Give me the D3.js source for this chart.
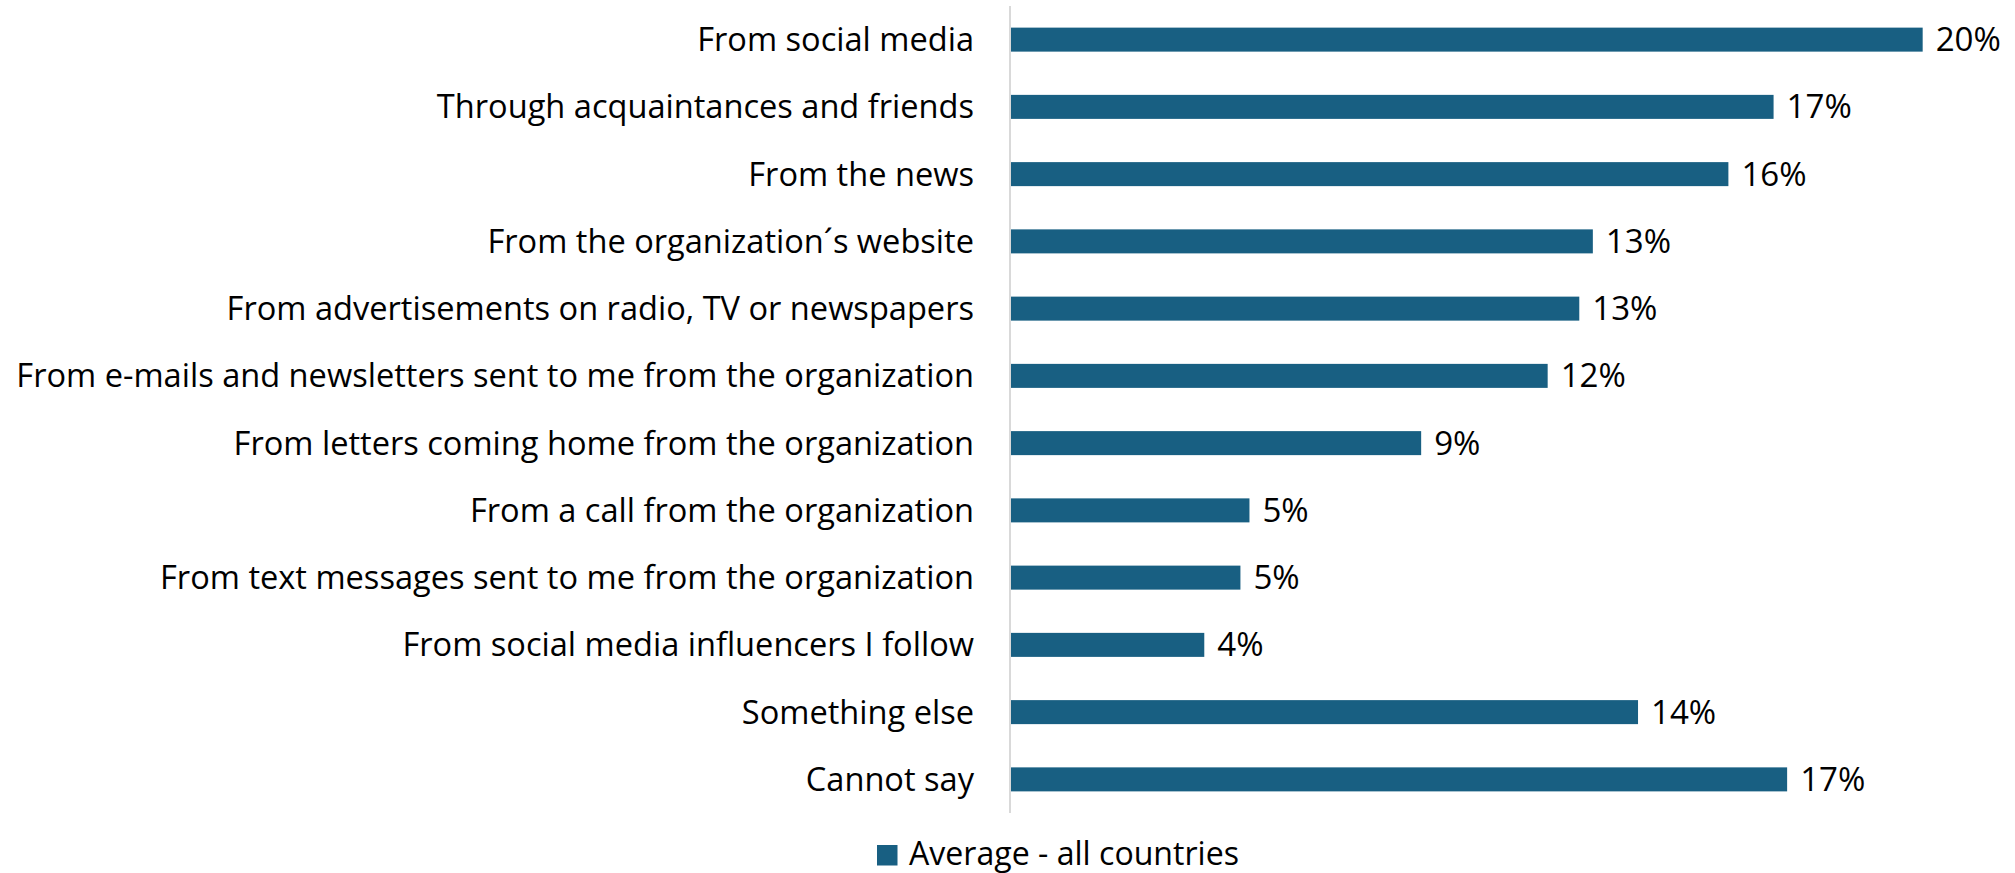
<!DOCTYPE html>
<html>
<head>
<meta charset="utf-8">
<script src="https://cdn.jsdelivr.net/npm/d3@7"></script>
<style>
  html, body { margin: 0; padding: 0; background: #fff; }
  svg { display: block; }
  text { font-family: "Open Sans", "Noto Sans", sans-serif; fill: #000; }
</style>
</head>
<body>
<svg id="chart" width="2015" height="873"></svg>
<script>
// Where respondents heard about the organization (share of answers)
const categories = [
  "From social media",
  "Through acquaintances and friends",
  "From the news",
  "From the organization´s website",
  "From advertisements on radio, TV or newspapers",
  "From e-mails and newsletters sent to me from the organization",
  "From letters coming home from the organization",
  "From a call from the organization",
  "From text messages sent to me from the organization",
  "From social media influencers I follow",
  "Something else",
  "Cannot say"
];
const averageAllCountries = [0.202, 0.169, 0.159, 0.129, 0.126, 0.119, 0.091, 0.053, 0.051, 0.043, 0.139, 0.172];
const seriesName = "Average - all countries";
const barColor = "#185f82";

const svg = d3.select("#chart");

const plot = { left: 1010, right: 2004, top: 6, bottom: 813 };

const x = d3.scaleLinear().domain([0, 0.22]).range([plot.left, plot.right]);
const y = d3.scaleBand().domain(categories).range([plot.top, plot.bottom]).paddingInner(0.643).paddingOuter(0.3215);
const fmt = d3.format(".0%");

// Category labels: size the font so the longest label spans the available width
const labelRight = 974;
const targetWidth = 958;
const probe = svg.append("text").attr("font-size", 30).text(categories[5]);
const measured = probe.node().getComputedTextLength();
probe.remove();
const fontSize = 30 * targetWidth / measured;

// Vertical category axis line
svg.append("line")
  .attr("x1", plot.left).attr("x2", plot.left)
  .attr("y1", plot.top).attr("y2", plot.bottom)
  .attr("stroke", "#d9d9d9").attr("stroke-width", 2);

const yAxis = d3.axisLeft(y).tickSize(0).tickPadding(plot.left - labelRight);
const gy = svg.append("g").attr("transform", `translate(${plot.left},0)`).call(yAxis);
gy.select(".domain").remove();
gy.selectAll("text")
  .attr("font-size", fontSize)
  .attr("fill", "#000")
  .attr("font-family", '"Open Sans", "Noto Sans", sans-serif')
  .attr("dy", "0.35em");

// Bars
svg.append("g").selectAll("rect")
  .data(categories)
  .join("rect")
  .attr("x", x(0) + 1)
  .attr("y", d => y(d))
  .attr("width", (d, i) => x(averageAllCountries[i]) - x(0) - 1)
  .attr("height", y.bandwidth())
  .attr("fill", barColor);

// Value labels
svg.append("g").selectAll("text")
  .data(categories)
  .join("text")
  .attr("x", (d, i) => x(averageAllCountries[i]) + 13)
  .attr("y", d => y(d) + y.bandwidth() / 2)
  .attr("dy", "0.35em")
  .attr("font-size", fontSize + 0.5)
  .text((d, i) => fmt(averageAllCountries[i]));

// Legend
const legend = svg.append("g").attr("transform", "translate(877,845)");
legend.append("rect").attr("width", 20.5).attr("height", 20.5).attr("fill", barColor);
legend.append("text")
  .attr("x", 32).attr("y", 8.5).attr("dy", "0.35em")
  .attr("font-size", fontSize - 0.5)
  .text(seriesName);
</script>
</body>
</html>
